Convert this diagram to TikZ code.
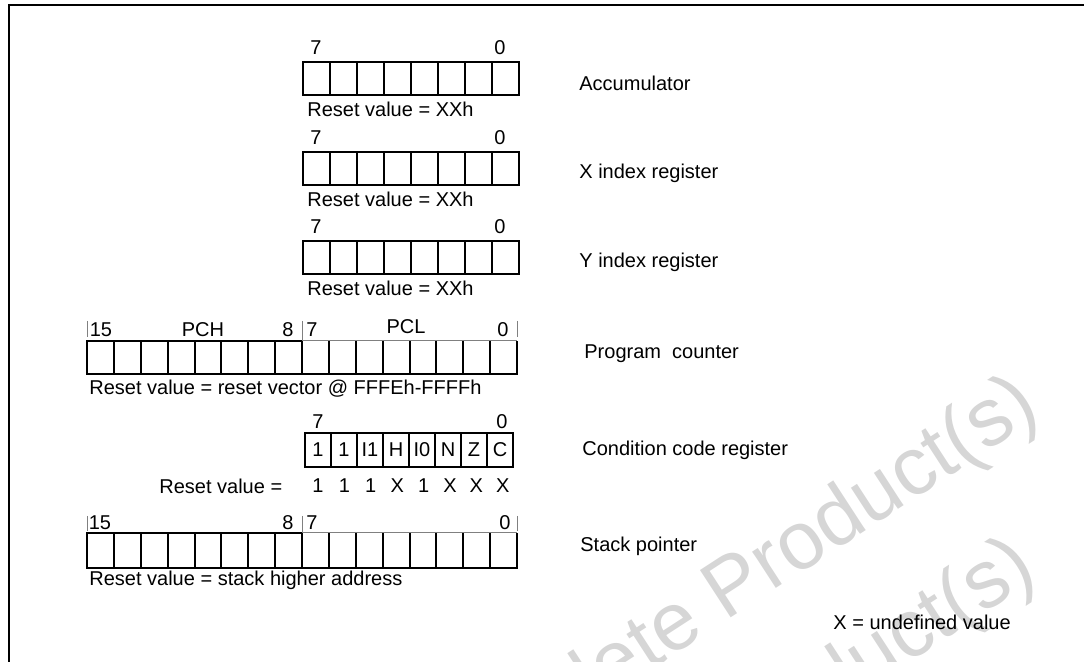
\documentclass[tikz,border=0pt]{standalone}
\usepackage{fontspec}
\setmainfont{Liberation Sans}
\usetikzlibrary{positioning}

\tikzset{
  regline/.style={line width=1pt},
  tickline/.style={gray, line width=0.5pt},
  bitnum/.style={inner sep=0pt, font=\fontsize{10}{12}\selectfont},
  lbl/.style={anchor=west, inner sep=0pt, font=\fontsize{10}{12}\selectfont},
  watermark/.style={text=black!16, inner sep=0pt, anchor=base west, rotate=33,
    font=\fontsize{41}{48}\selectfont}
}

\begin{document}
\begin{tikzpicture}[x=0.5pt,y=-0.5pt]
	\useasboundingbox (0,0) rectangle (1084,662);
	
	% watermark in the background
	\begin{scope}
		\clip (0,0) rectangle (1084,662);
		\node[watermark] (wmone) at (431,813) {Obsolete Product(s)};
		\node[watermark] (wmtwo) at (428,975) {Obsolete Product(s)};
	\end{scope}
	
	% frame
	\draw[line width=0.6pt] (1084,5) -- (9,5) -- (9,662);
	
	% 8-bit registers: accumulator, X, Y
	\foreach \t/\nm/\txt in {62/acc/Accumulator, 152/xreg/X index register, 241/yreg/Y index register}{
		\foreach \i in {1,...,7} \draw[regline] ({303+27*\i},\t) -- ({303+27*\i},\t+33);
		\draw[regline] (303,\t) rectangle (519,\t+33);
		\node[bitnum] (\nm seven) at (316,\t-14) {7};
		\node[bitnum] (\nm zero) at (500,\t-14) {0};
		\node[lbl] (\nm reset) at (307,\t+47) {Reset value = XXh};
		\node[lbl] (\nm name) at (579,\t+21) {\txt};
	}
	
	% program counter, 16 bits
	\foreach \i in {1,...,15} \draw[regline] ({87+26.875*\i},341) -- ({87+26.875*\i},374);
	\draw[regline] (302,341) -- (87,341) -- (87,374) -- (517,374) -- (517,341);
	\draw[tickline] (302,341) -- (517,341);
	\foreach \x in {87,517} \draw[tickline] (\x,321) -- (\x,337);
	\draw[tickline] (302,321) -- (302,341);
	\node[bitnum] (pcfifteen) at (101,330) {15};
	\node[bitnum] (pch) at (203,330) {PCH};
	\node[bitnum] (pceight) at (288,330) {8};
	\node[bitnum] (pcseven) at (312,330) {7};
	\node[bitnum] (pcl) at (406,327) {PCL};
	\node[bitnum] (pczero) at (503,330) {0};
	\node[lbl] (pcreset) at (89,389) {Reset value = reset vector @ FFFEh-FFFFh};
	\node[lbl] (pcname) at (584,354) {Program\ \ counter};
	
	% condition code register
	\foreach \i in {1,...,7} \draw[regline] ({305+26*\i},433) -- ({305+26*\i},467);
	\draw[regline] (305,433) rectangle (513,467);
	\foreach \b [count=\i from 0] in {1,1,I1,H,I0,N,Z,C}
		\node[bitnum] (ccrbit\i) at ({318+26*\i},450) {\b};
	\foreach \v [count=\i from 0] in {1,1,1,X,1,X,X,X}
		\node[bitnum] (ccrval\i) at ({318+26.4*\i},486) {\v};
	\node[bitnum] (ccrseven) at (318,422) {7};
	\node[bitnum] (ccrzero) at (502,422) {0};
	\node[lbl] (ccrreset) at (159,486) {Reset value =};
	\node[lbl] (ccrname) at (582,450) {Condition code register};
	
	% stack pointer, 16 bits
	\foreach \i in {1,...,15} \draw[regline] ({87+26.875*\i},533) -- ({87+26.875*\i},568);
	\draw[regline] (302,533) -- (87,533) -- (87,568) -- (517,568) -- (517,533);
	\draw[tickline] (302,533) -- (517,533);
	\foreach \x in {87,517} \draw[tickline] (\x,516) -- (\x,531);
	\draw[tickline] (302,516) -- (302,533);
	\node[bitnum] (spfifteen) at (100,523) {15};
	\node[bitnum] (speight) at (288,523) {8};
	\node[bitnum] (spseven) at (312,523) {7};
	\node[bitnum] (spzero) at (505,523) {0};
	\node[lbl] (spreset) at (89,580) {Reset value = stack higher address};
	\node[lbl] (spname) at (580,546) {Stack pointer};
	
	% note
	\node[lbl] (undef) at (833,622) {X = undefined value};
\end{tikzpicture}
\end{document}
